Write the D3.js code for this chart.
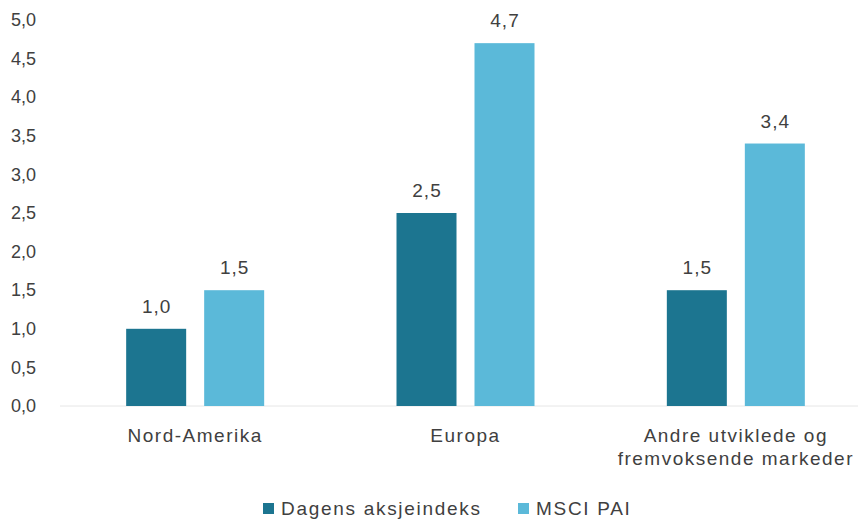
<!DOCTYPE html>
<html>
<head>
<meta charset="utf-8">
<script src="https://cdn.jsdelivr.net/npm/d3@7"></script>
<style>
  body { margin: 0; background: #fff; }
  text { font-family: "Liberation Sans", Arial, sans-serif; fill: #404040; }
</style>
</head>
<body>
<div class="container"></div>
<script>
"use strict";

// data
const categories = ["Nord-Amerika", "Europa", "Andre utviklede og\nfremvoksende markeder"];
const seriesNames = ["Dagens aksjeindeks", "MSCI PAI"];
const dagens = [1.0, 2.5, 1.5];
const msciPai = [1.5, 4.7, 3.4];
const yTicks = [0, 0.5, 1, 1.5, 2, 2.5, 3, 3.5, 4, 4.5, 5];
const colors = ["#1c7590", "#5bb9d9"];

const width = 858;
const height = 522;
const margin = { top: 20, left: 60, right: -13, bottom: 116 };

const locale = d3.formatLocale({ decimal: ",", thousands: " ", grouping: [3], currency: ["", ""] });
const fmt = locale.format(".1f");

const svg = d3
  .select(".container")
  .append("svg")
  .attr("width", width)
  .attr("height", height);

const x0 = d3
  .scaleBand()
  .domain(categories)
  .range([margin.left, width - margin.right])
  .padding(0);

const x1 = d3
  .scaleBand()
  .domain(seriesNames)
  .range([0, 138])
  .paddingInner(18 / 78)
  .paddingOuter(0);

const y = d3
  .scaleLinear()
  .domain([0, 5])
  .range([height - margin.bottom, margin.top]);

// y axis labels only
const yAxis = d3.axisLeft(y).tickValues(yTicks).tickFormat(fmt).tickSize(0).tickPadding(0);
const yg = svg.append("g").attr("transform", "translate(36,0)").call(yAxis);
yg.select(".domain").remove();
yg.selectAll("text")
  .style("font-size", "18px")
  .style("font-family", '"Liberation Sans", Arial, sans-serif')
  .attr("fill", "#404040");

// baseline
svg
  .append("line")
  .attr("x1", margin.left)
  .attr("x2", width)
  .attr("y1", y(0))
  .attr("y2", y(0))
  .attr("stroke", "#e6e6e6")
  .attr("stroke-width", 1);

const rows = categories.map((c, i) => ({
  cat: c,
  vals: [
    { key: seriesNames[0], v: dagens[i] },
    { key: seriesNames[1], v: msciPai[i] }
  ]
}));

const groups = svg
  .append("g")
  .selectAll("g")
  .data(rows)
  .enter()
  .append("g")
  .attr("transform", (d) => "translate(" + (x0(d.cat) + (x0.bandwidth() - 138) / 2) + ",0)");

groups
  .selectAll("rect")
  .data((d) => d.vals)
  .enter()
  .append("rect")
  .attr("x", (d) => x1(d.key))
  .attr("width", x1.bandwidth())
  .attr("y", (d) => y(d.v))
  .attr("height", (d) => y(0) - y(d.v))
  .attr("fill", (d, i) => colors[i]);

groups
  .selectAll(".val")
  .data((d) => d.vals)
  .enter()
  .append("text")
  .attr("class", "val")
  .attr("x", (d) => x1(d.key) + x1.bandwidth() / 2 + 0.5)
  .attr("y", (d) => y(d.v) - 16)
  .attr("text-anchor", "middle")
  .style("font-size", "19px")
  .style("letter-spacing", "1px")
  .text((d) => fmt(d.v));

// category labels
const catLabels = svg
  .append("g")
  .selectAll("text")
  .data(categories)
  .enter()
  .append("text")
  .attr("x", (d) => x0(d) + x0.bandwidth() / 2)
  .attr("y", 442)
  .attr("text-anchor", "middle")
  .style("font-size", "19px")
  .style("letter-spacing", "1.5px");

catLabels
  .selectAll("tspan")
  .data((d) => d.split("\n"))
  .enter()
  .append("tspan")
  .attr("x", function () { return d3.select(this.parentNode).attr("x"); })
  .attr("dy", (d, i) => (i === 0 ? 0 : 23))
  .text((d) => d);

// legend
const legendX = [263, 518];
const legend = svg
  .append("g")
  .selectAll("g")
  .data(seriesNames)
  .enter()
  .append("g")
  .attr("transform", (d, i) => "translate(" + legendX[i] + ",503)");

legend
  .append("rect")
  .attr("width", 11)
  .attr("height", 11)
  .attr("fill", (d, i) => colors[i]);

legend
  .append("text")
  .attr("x", 18)
  .attr("y", 12)
  .style("font-size", "19px")
  .style("letter-spacing", "1.7px")
  .text((d) => d);
</script>
</body>
</html>
